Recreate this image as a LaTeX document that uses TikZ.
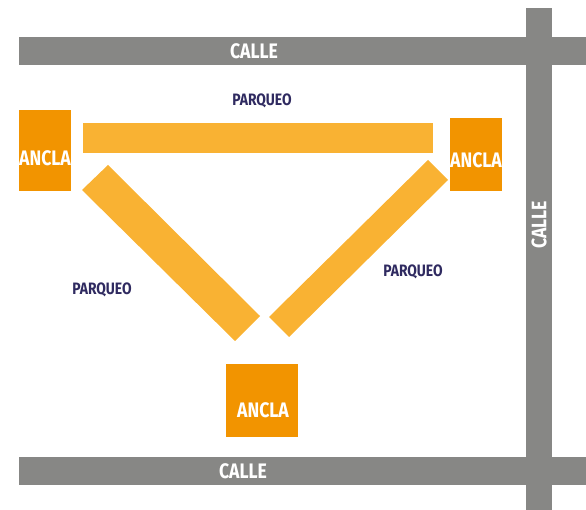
\documentclass[tikz,border=0pt]{standalone}
\usepackage{fontspec}
\newfontfamily\condf[FakeStretch=0.84]{Fira Sans}
\definecolor{road}{HTML}{878785}
\definecolor{anc}{HTML}{F29400}
\definecolor{bar}{HTML}{F9B233}
\definecolor{navy}{HTML}{2F2A60}
\tikzset{
  roadtxt/.style={text=white,font=\condf\bfseries\fontsize{21}{21}\selectfont,inner sep=0pt},
  anctxt/.style={text=white,font=\condf\bfseries\fontsize{21}{21}\selectfont,inner sep=0pt},
  parktxt/.style={text=navy,font=\condf\bfseries\fontsize{16.5}{16.5}\selectfont,inner sep=0pt},
  ancbox/.style={fill=anc,draw=none,inner sep=0pt}
}
\begin{document}
\begin{tikzpicture}[x=1pt,y=-1pt]
\useasboundingbox (0,0) rectangle (586,510);
% roads
\fill[road] (19,37) rectangle (586,65);
\fill[road] (19,457) rectangle (586,485);
\fill[road] (526,8) rectangle (552,510);
\node[roadtxt] (c1) at (254,51) {CALLE};
\node[roadtxt] (c2) at (243,471) {CALLE};
\node[roadtxt,rotate=90] (c3) at (539,225) {CALLE};
% anchors
\fill[anc] (19,110) rectangle (71,191);
\fill[anc] (450,118) rectangle (502,191);
\fill[anc] (226,364) rectangle (298,437);
\node[anctxt] (a1) at (45,158) {ANCLA};
\node[anctxt] (a2) at (476,160) {ANCLA};
\node[anctxt] (a3) at (263,410) {ANCLA};
% parking bars
\fill[bar] (83,123) rectangle (433,153);
\fill[bar] (108,165) -- (260,316) -- (235,341) -- (82,190) -- cycle;
\fill[bar] (428,160) -- (448,180) -- (289,337) -- (269,317) -- cycle;
\node[parktxt] (p1) at (262,101) {PARQUEO};
\node[parktxt] (p2) at (102,290) {PARQUEO};
\node[parktxt] (p3) at (413,272) {PARQUEO};
\end{tikzpicture}
\end{document}
